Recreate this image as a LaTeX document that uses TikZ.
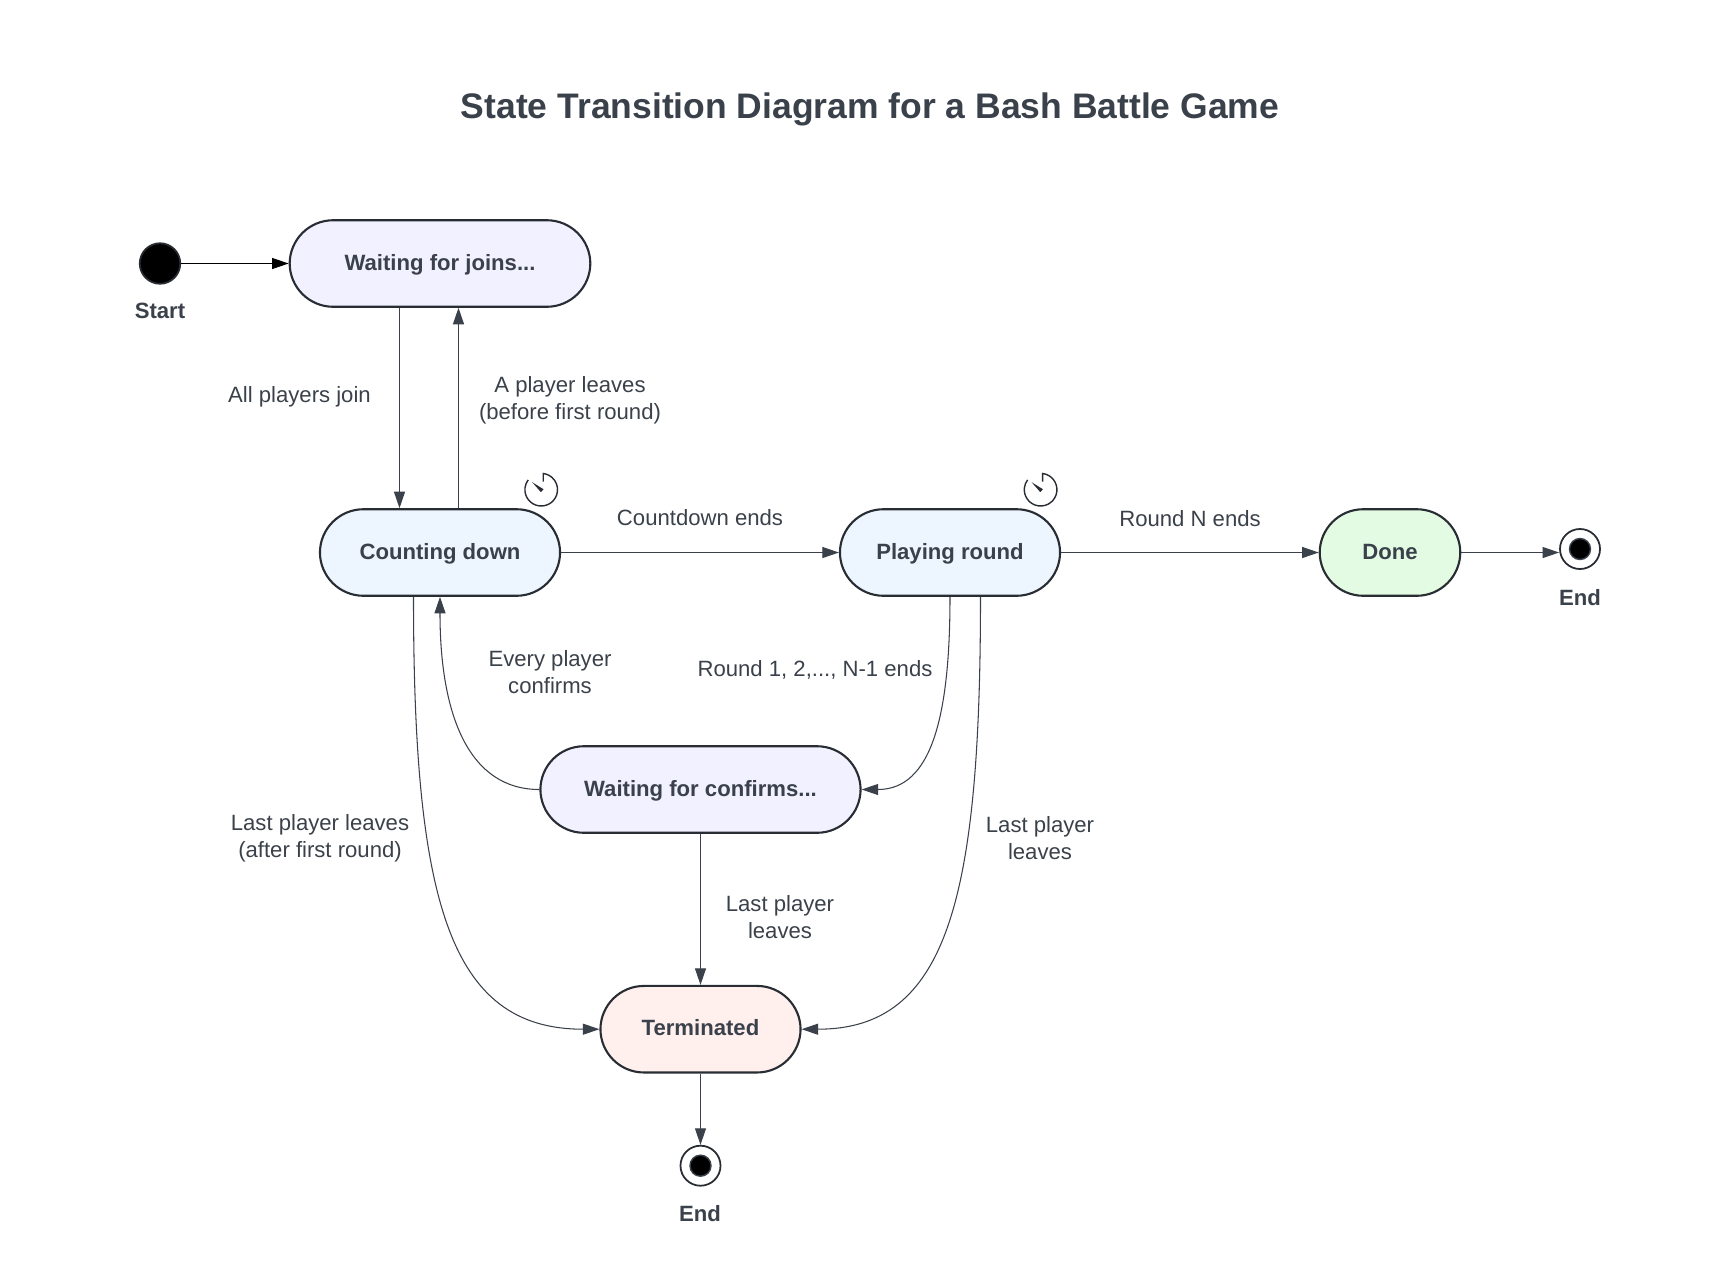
\documentclass[tikz,border=0pt]{standalone}
\usepackage{fontspec}
\setmainfont{Liberation Sans}
\usetikzlibrary{arrows.meta}
\definecolor{ink}{HTML}{3A414A}
\definecolor{edge}{HTML}{282C33}
\definecolor{lilac}{HTML}{F1F1FF}
\definecolor{sky}{HTML}{EDF5FF}
\definecolor{mint}{HTML}{E3FAE3}
\definecolor{blush}{HTML}{FFF0EE}
\tikzstyle{state}=[draw=edge, line width=0.6pt, rounded corners=0.435cm, minimum height=0.865cm, inner sep=0, text=ink, text height=0.17cm, text depth=0.04cm, font=\fontsize{6.29}{7.7}\selectfont\bfseries]
\tikzstyle{initial}=[circle, draw=edge, fill=black, line width=0.5pt, minimum size=0.405cm, inner sep=0]
\tikzstyle{final}=[circle, draw=edge, fill=white, line width=0.5pt, minimum size=0.4cm, inner sep=0]
\tikzstyle{final dot}=[circle, draw=ink, fill=black, line width=0.4pt, minimum size=0.21cm, inner sep=0]
\tikzstyle{caption}=[text=ink, inner sep=0, font=\fontsize{6.29}{7.7}\selectfont\bfseries]
\tikzstyle{guard}=[text=ink, inner sep=0, align=center, font=\fontsize{6.29}{7.7}\selectfont]
\tikzstyle{transition}=[draw=ink, line width=0.3pt, -{Triangle[length=0.165cm, width=0.11cm]}]

\begin{document}
\begin{tikzpicture}[x=0.01cm, y=-0.01cm]
  \useasboundingbox (0, 0) rectangle (1720, 1287);

  \node[text=ink, inner sep=0, font=\fontsize{10.09}{12}\selectfont\bfseries] (title) at (870, 109) {State Transition Diagram for a Bash Battle Game};

  \node[initial] (start) at (160, 263.5) {};
  \node[caption] (start_text) at (160, 311) {Start};
  \node[state, fill=lilac, minimum width=3.005cm] (joins) at (440, 263.5) {Waiting for joins...};
  \node[state, fill=sky, minimum width=2.4cm] (count) at (440, 552.5) {Counting down};
  \node[state, fill=sky, minimum width=2.2cm] (play) at (950, 552.5) {Playing round};
  \node[state, fill=mint, minimum width=1.405cm] (done) at (1390, 552.5) {Done};
  \node[state, fill=lilac, minimum width=3.2cm] (confirms) at (700.5, 789.5) {Waiting for confirms...};
  \node[state, fill=blush, minimum width=2cm] (term) at (700.5, 1029.2) {Terminated};

  \node[final] (end_right) at (1580, 549) {};
  \node[final dot] (end_right_dot) at (end_right) {};
  \node[caption] (end_right_text) at (1580, 597.5) {End};
  \node[final] (end_low) at (700.5, 1165.7) {};
  \node[final dot] (end_low_dot) at (end_low) {};
  \node[caption] (end_low_text) at (700, 1214) {End};

  \coordinate (join_x) at (399.5, 0);
  \coordinate (leave_x) at (458.5, 0);
  \coordinate (count_x) at (413.5, 0);
  \coordinate (play_x) at (980.5, 0);
  \coordinate (timer_count) at (541.2, 489.7);
  \coordinate (timer_play) at (1040.6, 489.7);

  \draw[transition, draw=black, -{Triangle[length=0.165cm, width=0.11cm, black]}] (start) -- (joins);
  \draw[transition] (joins.south -| join_x) -- (count.north -| join_x);
  \draw[transition] (count.north -| leave_x) -- (joins.south -| leave_x);
  \draw[transition] (count) -- (play);
  \draw[transition] (play) -- (done);
  \draw[transition] (done) -- (done -| end_right.west);
  \draw[transition] (confirms) -- (term);
  \draw[transition] (term) -- (end_low);

  \draw[transition] (confirms.west) to[out=180, in=270, out distance=0.7cm, in distance=1.19cm] (count.south);
  \draw[transition] (play.south) to[out=270, in=0, out distance=1.19cm, in distance=0.7cm] (confirms.east);
  \draw[transition] (count.south -| count_x) to[out=270, in=180, out distance=3.04cm, in distance=1.5cm] (term.west);
  \draw[transition] (play.south -| play_x) to[out=270, in=0, out distance=3.04cm, in distance=1.45cm] (term.east);

  \node[guard] (join_text) at (299.5, 396.5) {All players join};
  \node[guard] (leave_text) at (570, 400.5) {A player leaves\\(before first round)};
  \node[guard] (countdown_text) at (700, 518) {Countdown ends};
  \node[guard] (roundn_text) at (1190, 519) {Round N ends};
  \node[guard] (every_text) at (550, 672) {Every player\\confirms};
  \node[guard] (round_text) at (815, 670) {Round 1, 2,..., N-1 ends};
  \node[guard] (first_text) at (320, 838) {Last player leaves\\(after first round)};
  \node[guard] (right_text) at (1040, 838.5) {Last player\\leaves};
  \node[guard] (mid_text) at (780, 917.5) {Last player\\leaves};

  \foreach \timer in {timer_count, timer_play} {
    \draw[edge, line width=0.4pt] ([shift={(0.02cm, 0.08cm)}]\timer)
      -- ([shift={(0.02cm, 0.162cm)}]\timer)
      arc[start angle=83, end angle=-217, radius=0.163cm];
    \fill[edge] ([shift={(-0.09cm, 0.075cm)}]\timer)
      -- ([shift={(0.023cm, 0.005cm)}]\timer)
      -- ([shift={(-0.003cm, -0.025cm)}]\timer) -- cycle;
  }
\end{tikzpicture}
\end{document}
